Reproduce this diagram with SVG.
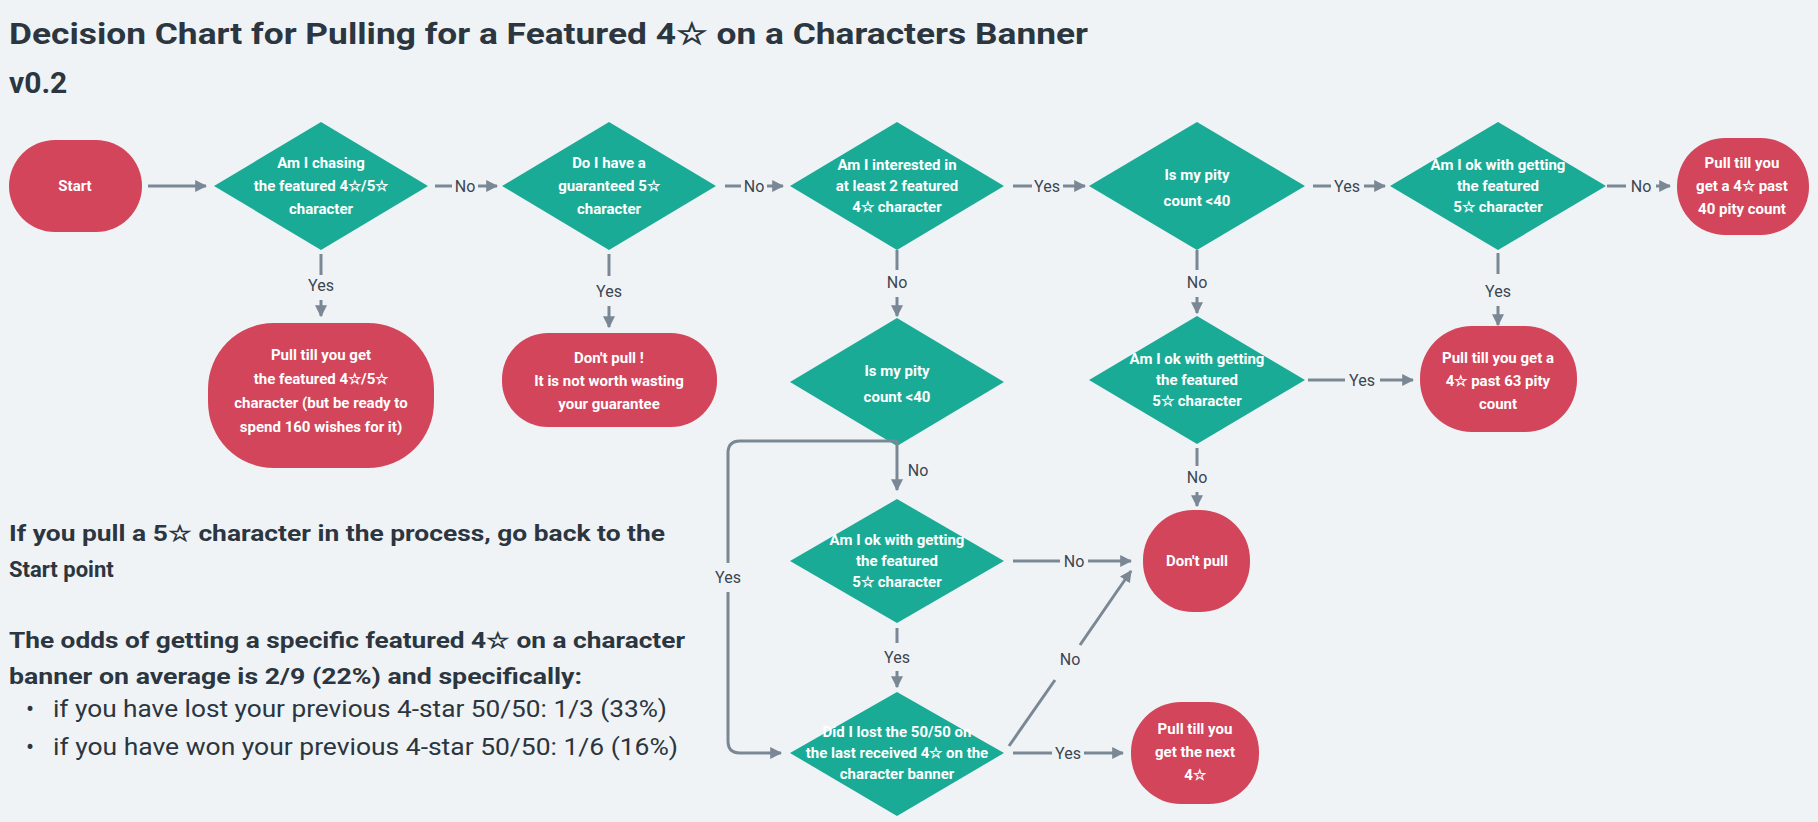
<svg xmlns="http://www.w3.org/2000/svg" width="1818" height="822" viewBox="0 0 1818 822">
<style>
.bg{fill:#f0f3f6}
.d{fill:#1aab96}
.p{fill:#d2455a}
.t{font-family:Roboto,"Noto Sans",sans-serif;font-weight:bold;font-size:15px;fill:#fff;text-anchor:middle}
.l{font-family:Roboto,"Noto Sans",sans-serif;font-size:16px;fill:#3b4650;text-anchor:middle}
.c{stroke:#7a8794;stroke-width:3;fill:none}
.a{stroke:#7a8794;stroke-width:3;fill:none;marker-end:url(#ah)}
.h{font-family:Roboto,"Noto Sans",sans-serif;font-weight:bold;fill:#2b3640}
.n{font-family:Roboto,"Noto Sans",sans-serif;fill:#2b3640;font-size:24px}
</style>
<defs>
<marker id="ah" viewBox="0 0 10 10" refX="9" refY="5" markerWidth="4" markerHeight="4" orient="auto"><path d="M0,0L10,5L0,10z" fill="#7a8794"/></marker>
</defs>
<rect class="bg" width="1818" height="822"/>
<text class="h" x="9" y="44" font-size="30" textLength="1079" lengthAdjust="spacingAndGlyphs">Decision Chart for Pulling for a Featured 4☆ on a Characters Banner</text>
<text class="h" x="9" y="93" font-size="30">v0.2</text>
<g id="start"><rect class="p" x="9" y="140" width="133" height="92" rx="46"/><text class="t" x="75" y="191">Start</text></g>
<g id="d1"><polygon class="d" points="321,122 428,186 321,250 214,186"/><text class="t" x="321" y="168">Am I chasing</text><text class="t" x="321" y="191">the featured 4☆/5☆</text><text class="t" x="321" y="214">character</text></g>
<g id="d2"><polygon class="d" points="609,122 716,186 609,250 502,186"/><text class="t" x="609" y="168">Do I have a</text><text class="t" x="609" y="191">guaranteed 5☆</text><text class="t" x="609" y="214">character</text></g>
<g id="d3"><polygon class="d" points="897,122 1004,186 897,250 790,186"/><text class="t" x="897" y="170" font-size="13">Am I interested in</text><text class="t" x="897" y="191" font-size="13">at least 2 featured</text><text class="t" x="897" y="212" font-size="13">4☆ character</text></g>
<g id="d4"><polygon class="d" points="1197,122 1305,186 1197,250 1089,186"/><text class="t" x="1197" y="180" font-size="17">Is my pity</text><text class="t" x="1197" y="206" font-size="17">count &lt;40</text></g>
<g id="d5"><polygon class="d" points="1498,122 1606,186 1498,250 1390,186"/><text class="t" x="1498" y="170" font-size="13">Am I ok  with getting</text><text class="t" x="1498" y="191" font-size="13">the featured</text><text class="t" x="1498" y="212" font-size="13">5☆ character</text></g>
<g id="e1"><rect class="p" x="1677" y="138" width="132" height="97" rx="48"/><text class="t" x="1742" y="168">Pull till you</text><text class="t" x="1742" y="191">get a 4☆ past</text><text class="t" x="1742" y="214">40 pity count</text></g>
<g id="e2"><rect class="p" x="208" y="323" width="226" height="145" rx="66"/><text class="t" x="321" y="360">Pull till you get</text><text class="t" x="321" y="384">the featured 4☆/5☆</text><text class="t" x="321" y="408">character (but be ready to</text><text class="t" x="321" y="432">spend 160 wishes for it)</text></g>
<g id="e3"><rect class="p" x="502" y="333" width="215" height="94" rx="46"/><text class="t" x="609" y="363">Don't pull !</text><text class="t" x="609" y="386">It is not worth wasting</text><text class="t" x="609" y="409">your guarantee</text></g>
<g id="d6"><polygon class="d" points="897,318 1004,382 897,446 790,382"/><text class="t" x="897" y="376" font-size="17">Is my pity</text><text class="t" x="897" y="402" font-size="17">count &lt;40</text></g>
<g id="d7"><polygon class="d" points="1197,316 1305,380 1197,444 1089,380"/><text class="t" x="1197" y="364" font-size="13">Am I ok  with getting</text><text class="t" x="1197" y="385" font-size="13">the featured</text><text class="t" x="1197" y="406" font-size="13">5☆ character</text></g>
<g id="e4"><rect class="p" x="1420" y="326" width="157" height="106" rx="52"/><text class="t" x="1498" y="363">Pull till you get a</text><text class="t" x="1498" y="386">4☆ past 63 pity</text><text class="t" x="1498" y="409">count</text></g>
<g id="d8"><polygon class="d" points="897,499 1004,561 897,623 790,561"/><text class="t" x="897" y="545" font-size="13">Am I ok with getting</text><text class="t" x="897" y="566" font-size="13">the featured</text><text class="t" x="897" y="587" font-size="13">5☆ character</text></g>
<g id="e5"><rect class="p" x="1143" y="510" width="107" height="102" rx="50"/><text class="t" x="1197" y="566">Don't pull</text></g>
<g id="d9"><polygon class="d" points="897,692 1004,753 897,816 790,753"/><text class="t" x="897" y="737" font-size="12">Did I lost the 50/50 on</text><text class="t" x="897" y="758" font-size="12">the last received 4☆ on the</text><text class="t" x="897" y="779" font-size="12">character banner</text></g>
<g id="e6"><rect class="p" x="1131" y="702" width="128" height="102" rx="50"/><text class="t" x="1195" y="734">Pull till you</text><text class="t" x="1195" y="757">get the next</text><text class="t" x="1195" y="780">4☆</text></g>
<g id="connectors">
<path class="a" d="M148,186H206"/>
<path class="c" d="M435,186H452"/><text class="l" x="465" y="192">No</text><path class="a" d="M478,186H497"/>
<path class="c" d="M725,186H741"/><text class="l" x="754" y="192">No</text><path class="a" d="M767,186H783"/>
<path class="c" d="M1013,186H1032"/><text class="l" x="1047" y="192">Yes</text><path class="a" d="M1063,186H1085"/>
<path class="c" d="M1313,186H1331"/><text class="l" x="1347" y="192">Yes</text><path class="a" d="M1364,186H1385"/>
<path class="c" d="M1607,186H1626"/><text class="l" x="1641" y="192">No</text><path class="a" d="M1656,186H1670"/>
<path class="c" d="M321,254V275"/><text class="l" x="321" y="291">Yes</text><path class="a" d="M321,300V316"/>
<path class="c" d="M609,254V276"/><text class="l" x="609" y="297">Yes</text><path class="a" d="M609,306V327"/>
<path class="c" d="M897,250V270"/><text class="l" x="897" y="288">No</text><path class="a" d="M897,297V316"/>
<path class="c" d="M1197,250V270"/><text class="l" x="1197" y="288">No</text><path class="a" d="M1197,297V313"/>
<path class="c" d="M1498,253V274"/><text class="l" x="1498" y="297">Yes</text><path class="a" d="M1498,306V325"/>
<path class="c" d="M1308,380H1345"/><text class="l" x="1362" y="386">Yes</text><path class="a" d="M1380,380H1413"/>
<path class="c" d="M1197,448V466"/><text class="l" x="1197" y="483">No</text><path class="a" d="M1197,492V506"/>
<path class="a" d="M897,441V490"/><text class="l" x="918" y="476">No</text>
<path class="c" d="M897,441H740Q728,441 728,453V563"/><text class="l" x="728" y="583">Yes</text><path class="a" d="M728,592V741Q728,753 740,753H781"/>
<path class="c" d="M1013,561H1060"/><text class="l" x="1074" y="567">No</text><path class="a" d="M1088,561H1131"/>
<path class="c" d="M897,628V643"/><text class="l" x="897" y="663">Yes</text><path class="a" d="M897,671V687"/>
<path class="c" d="M1013,753H1052"/><text class="l" x="1068" y="759">Yes</text><path class="a" d="M1084,753H1123"/>
<path class="c" d="M1009,746L1055,680"/><text class="l" x="1070" y="665">No</text><path class="a" d="M1080,645L1131,571"/>
</g>
<text class="h" x="9" y="541" font-size="22" textLength="656" lengthAdjust="spacingAndGlyphs">If you pull a 5☆ character in the process, go back to the</text>
<text class="h" x="9" y="577" font-size="22">Start point</text>
<text class="h" x="9" y="648" font-size="22" textLength="676" lengthAdjust="spacingAndGlyphs">The odds of getting a specific featured 4☆ on a character</text>
<text class="h" x="9" y="684" font-size="22" textLength="573" lengthAdjust="spacingAndGlyphs">banner on average is 2/9 (22%) and specifically:</text>
<text class="n" x="26" y="717">•</text><text class="n" x="53" y="717" font-size="22" textLength="614" lengthAdjust="spacingAndGlyphs">if you have lost your previous 4-star 50/50: 1/3 (33%)</text>
<text class="n" x="26" y="755">•</text><text class="n" x="53" y="755" font-size="22" textLength="625" lengthAdjust="spacingAndGlyphs">if you have won your previous 4-star 50/50: 1/6 (16%)</text>
</svg>
